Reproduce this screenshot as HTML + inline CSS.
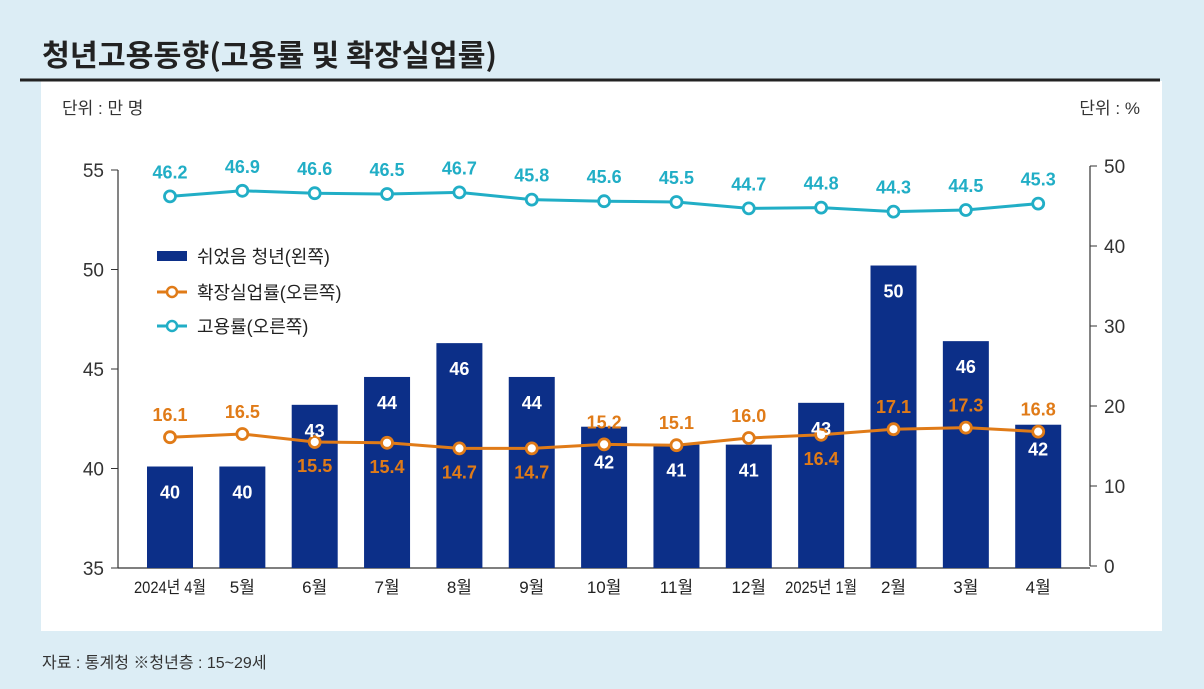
<!DOCTYPE html>
<html><head><meta charset="utf-8">
<style>
body{margin:0;width:1204px;height:689px;background:#dcedf5;overflow:hidden;font-family:"Liberation Sans","Noto Sans CJK KR",sans-serif;}
svg{position:absolute;left:0;top:0}
</style></head>
<body>
<svg width="1204" height="689">
<rect x="41" y="81" width="1121" height="550" fill="#fff"/>
<text x="42" y="66" font-size="30" font-weight="bold" fill="#222" textLength="455" lengthAdjust="spacingAndGlyphs" font-family="'Noto Sans CJK KR',sans-serif">청년고용동향(고용률 및 확장실업률)</text>
<line x1="20" y1="80" x2="1160" y2="80" stroke="#222" stroke-width="3"/>
<text x="62" y="114" font-size="17" fill="#333">단위 : 만 명</text>
<text x="1140" y="114" font-size="17" fill="#333" text-anchor="end">단위 : %</text>
<text x="42" y="668" font-size="16" fill="#333">자료 : 통계청 ※청년층 : 15~29세</text>
<g id="g"></g>
</svg>
<script>
const categories=["2024년 4월","5월","6월","7월","8월","9월","10월","11월","12월","2025년 1월","2월","3월","4월"];
const restingYouth=[40.1,40.1,43.2,44.6,46.3,44.6,42.1,41.2,41.2,43.3,50.2,46.4,42.2];
const restingLabels=["40","40","43","44","46","44","42","41","41","43","50","46","42"];
const unemployment=[16.1,16.5,15.5,15.4,14.7,14.7,15.2,15.1,16.0,16.4,17.1,17.3,16.8];
const employment=[46.2,46.9,46.6,46.5,46.7,45.8,45.6,45.5,44.7,44.8,44.3,44.5,45.3];
const leftTicks=[35,40,45,50,55];
const rightTicks=[0,10,20,30,40,50];
const unempAbove=[true,true,false,false,false,false,true,true,true,false,true,true,true];

const NS="http://www.w3.org/2000/svg",g=document.getElementById('g');
function el(t,a,txt){const e=document.createElementNS(NS,t);for(const k in a)e.setAttribute(k,a[k]);if(txt!==undefined)e.textContent=txt;g.appendChild(e);return e;}
const x=i=>170+i*72.35;
const yL=v=>568-(v-35)*19.9;
const yR=v=>566-v*8;
let e=el('line',{x1:118,y1:170,x2:118,y2:568,stroke:'#333','stroke-width':1.2});

e=el('line',{x1:1090,y1:166,x2:1090,y2:566,stroke:'#333','stroke-width':1.2});

e=el('line',{x1:118,y1:568,x2:1090,y2:568,stroke:'#333','stroke-width':1.2});

leftTicks.forEach(v=>{
 e=el('line',{x1:111,y1:yL(v),x2:118,y2:yL(v),stroke:'#333'});
 
 e=el('text',{x:104,y:yL(v)+7,'font-size':19,fill:'#333','text-anchor':'end'},v);
 
});
rightTicks.forEach(v=>{
 e=el('line',{x1:1090,y1:yR(v),x2:1097,y2:yR(v),stroke:'#333'});
 
 e=el('text',{x:1104,y:yR(v)+7,'font-size':19,fill:'#333'},v);
 
});
categories.forEach((c,i)=>{
 e=el('text',{x:x(i),y:593,'font-size':17,fill:'#222','text-anchor':'middle'},c);
 if(c.length>6){e.setAttribute('textLength',72);e.setAttribute('lengthAdjust','spacingAndGlyphs');}
 
});
restingYouth.forEach((v,i)=>{
 e=el('rect',{x:x(i)-23,y:yL(v),width:46,height:568-yL(v),fill:'#0c2f88'});
 
});
function line(vals,col,name){
 e=el('polyline',{points:vals.map((v,i)=>x(i)+','+yR(v)).join(' '),fill:'none',stroke:col,'stroke-width':3});
 
 vals.forEach((v,i)=>{e=el('circle',{cx:x(i),cy:yR(v),r:5.5,fill:'#fff',stroke:col,'stroke-width':2.8});
 });
}
line(unemployment,'#e07b18','unemployment');
line(employment,'#21aec6','employment');
restingYouth.forEach((v,i)=>{
 e=el('text',{x:x(i),y:yL(v)+32,'font-size':18,'font-weight':'bold',fill:'#fff','text-anchor':'middle'},restingLabels[i]);
 if(i==6||i==12){e.setAttribute('y',yR(unemployment[i])+24);}
 
});
unemployment.forEach((v,i)=>{
 const yy=unempAbove[i]?yR(v)-16:yR(v)+30;
 e=el('text',{x:x(i),y:yy,'font-size':18,'font-weight':'bold',fill:'#e07b18','text-anchor':'middle'},v.toFixed(1));
 
});
employment.forEach((v,i)=>{
 e=el('text',{x:x(i),y:yR(v)-18,'font-size':18,'font-weight':'bold',fill:'#21aec6','text-anchor':'middle'},v.toFixed(1));
 
});
e=el('rect',{x:157,y:251,width:30,height:10,fill:'#0c2f88'});

e=el('text',{x:197,y:263,'font-size':18,fill:'#222'},'쉬었음 청년(왼쪽)');

[['#e07b18','확장실업률(오른쪽)',292],['#21aec6','고용률(오른쪽)',326]].forEach(l=>{
 e=el('line',{x1:157,y1:l[2],x2:187,y2:l[2],stroke:l[0],'stroke-width':3});
 
 e=el('circle',{cx:172,cy:l[2],r:5,fill:'#fff',stroke:l[0],'stroke-width':2.5});
 
 e=el('text',{x:197,y:l[2]+7,'font-size':18,fill:'#222'},l[1]);
 
});
</script>
</body></html>
